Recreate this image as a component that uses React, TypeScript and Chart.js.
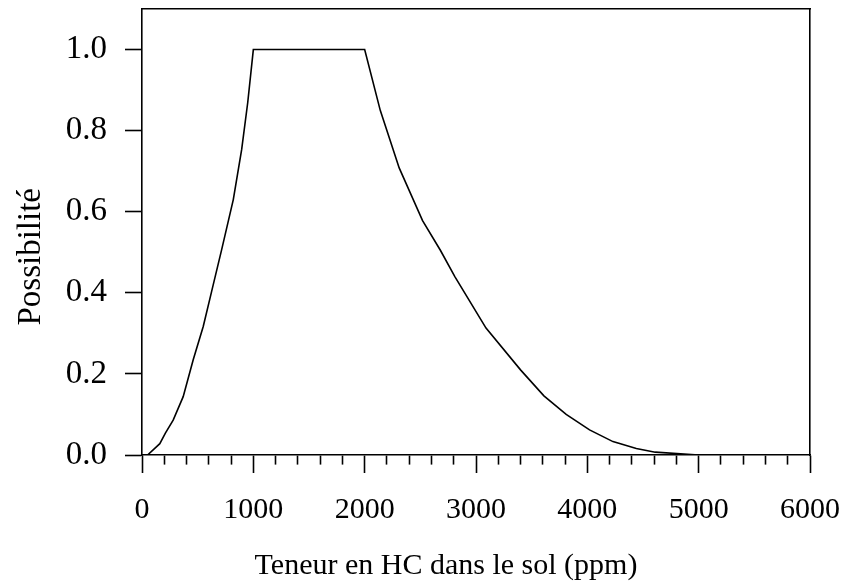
import React, { useEffect, useRef } from "react";
import { Chart, registerables } from "chart.js";

Chart.register(...registerables);

const hcContent = [50, 160, 210, 280, 370, 460, 550, 625, 715, 820, 895, 950, 1000, 2000, 2140, 2310, 2520, 2680, 2810, 3090, 3400, 3610, 3810, 4020, 4230, 4440, 4610, 5000];
const possibility = [0, 0.028, 0.054, 0.086, 0.144, 0.235, 0.317, 0.403, 0.506, 0.63, 0.753, 0.87, 1.0, 1.0, 0.85, 0.708, 0.578, 0.505, 0.44, 0.313, 0.21, 0.146, 0.1, 0.062, 0.033, 0.016, 0.007, 0];
const xMajorTicks = [0, 1000, 2000, 3000, 4000, 5000, 6000];
const yTicks = [0, 0.2, 0.4, 0.6, 0.8, 1.0];
const xTitle = "Teneur en HC dans le sol (ppm)";
const yTitle = "Possibilité";

const FONT = "'Liberation Serif', 'Times New Roman', serif";

export default function App() {
  const ref = useRef<HTMLCanvasElement | null>(null);
  useEffect(() => {
    if (!ref.current) return;
    const points = hcContent.map((x, i) => ({ x, y: possibility[i] }));
    const chart = new Chart(ref.current, {
      type: "line",
      data: {
        datasets: [
          {
            data: points,
            borderColor: "#000",
            borderWidth: 1.6,
            pointRadius: 0,
            tension: 0,
            fill: false,
          },
        ],
      },
      options: {
        animation: false,
        responsive: true,
        maintainAspectRatio: false,
        layout: { padding: { left: 0, top: 9, right: 33, bottom: 0 } },
        plugins: { legend: { display: false }, tooltip: { enabled: false } },
        scales: {
          x: {
            type: "linear",
            position: "bottom",
            min: 0,
            max: 6000,
            afterBuildTicks: (s: any) => {
              const t: any[] = [];
              for (let v = 0; v <= 6000; v += 200) t.push({ value: v });
              s.ticks = t;
            },
            afterFit: (s: any) => {
              s.height = 133;
              s.paddingLeft = 0;
              s.paddingRight = 0;
            },
            ticks: {
              autoSkip: false,
              maxRotation: 0,
              padding: 19,
              color: "#000",
              font: { family: FONT, size: 30 },
              callback: (v: any) => (xMajorTicks.includes(Number(v)) ? String(v) : ""),
            },
            grid: {
              drawOnChartArea: false,
              drawTicks: true,
              tickLength: 18,
              tickColor: "#000",
              tickWidth: 1.6,
              tickBorderDash: (ctx: any) => (ctx.tick && xMajorTicks.includes(ctx.tick.value) ? [] : [9, 100]),
            },
            border: { display: true, color: "#000", width: 1.6 },
            title: {
              display: true,
              text: xTitle + "        ",
              color: "#000",
              font: { family: FONT, size: 30 },
              padding: { top: 0, bottom: 4 },
            },
          },
          y: {
            type: "linear",
            position: "left",
            min: 0,
            max: 1.1,
            afterBuildTicks: (s: any) => {
              s.ticks = yTicks.map((v) => ({ value: v }));
            },
            afterFit: (s: any) => {
              s.width = 142;
              s.paddingTop = 0;
              s.paddingBottom = 0;
            },
            ticks: {
              padding: 18,
              color: "#000",
              font: { family: FONT, size: 33 },
              callback: (v: any) => Number(v).toFixed(1),
            },
            grid: {
              drawOnChartArea: false,
              drawTicks: true,
              tickLength: 17,
              tickColor: "#000",
              tickWidth: 1.6,
            },
            border: { display: true, color: "#000", width: 1.6 },
            title: {
              display: true,
              text: yTitle + "      ",
              color: "#000",
              font: { family: FONT, size: 33 },
              padding: { top: 12, bottom: 0 },
            },
          },
          xTop: {
            type: "linear",
            position: "top",
            min: 0,
            max: 6000,
            ticks: { display: false },
            grid: { drawOnChartArea: false, drawTicks: false },
            border: { display: true, color: "#000", width: 1.6 },
            afterFit: (s: any) => {
              s.height = 0;
              s.paddingLeft = 0;
              s.paddingRight = 0;
            },
          },
          yRight: {
            type: "linear",
            position: "right",
            min: 0,
            max: 1.1,
            ticks: { display: false },
            grid: { drawOnChartArea: false, drawTicks: false },
            border: { display: true, color: "#000", width: 1.6 },
            afterFit: (s: any) => {
              s.width = 0;
              s.paddingTop = 0;
              s.paddingBottom = 0;
            },
          },
        },
      },
    });
    return () => chart.destroy();
  }, []);
  return (
    <div style={{ position: "fixed", left: 0, top: 0, width: 843, height: 588, background: "#fff" }}>
      <canvas ref={ref} />
    </div>
  );
}
